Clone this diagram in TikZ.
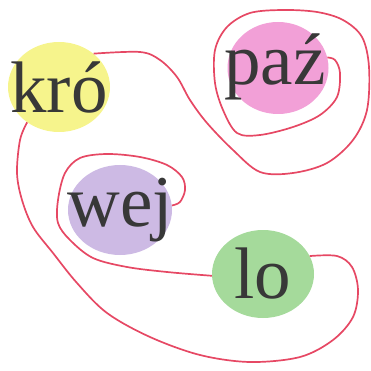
\documentclass[tikz,border=0pt]{standalone}
\usepackage{fontspec}
\setmainfont{Liberation Serif}
\usetikzlibrary{shapes.geometric}
\definecolor{syly}{RGB}{246,244,140}
\definecolor{sylp}{RGB}{242,160,215}
\definecolor{sylv}{RGB}{205,186,228}
\definecolor{sylg}{RGB}{165,218,155}
\definecolor{loop}{RGB}{230,72,100}
\newcommand{\syl}[1]{\fontsize{73}{73}\selectfont #1}

\begin{document}
\begin{tikzpicture}[x=1pt,y=-1pt,
    blob/.style={ellipse,inner sep=0pt,minimum width=102pt,minimum height=90pt},
    word/.style={label={[text={black!78},inner sep=0pt]center:\syl{#1}}},
    hand/.style={draw=loop,line width=1.7pt,smooth,tension=0.55}]
    \useasboundingbox (0,0) rectangle (371,371);
    \node[blob,fill=syly,word=kró] (kro) at (59,87) {};
    \node[blob,fill=sylp,minimum width=101pt,minimum height=92pt] (paz) at (278,68) {};
    \node[inner sep=0pt,text={black!78}] (pazw) at (275,67) {\syl{paź}};
    \node[blob,fill=sylv,minimum width=104pt,word=wej] (wej) at (120,210) {};
    \node[blob,fill=sylg,minimum height=88pt,word=lo] (lo) at (263,274) {};
    % kro -> paz (spiral)
    \draw[hand] plot coordinates {(kro.44) (140,52) (160,60) (177,77) (190,100)
      (207,123) (233,150) (260,172) (293,173) (327,163) (353,140) (367,110)
      (369,67) (362,37) (343,20) (317,12) (283,10) (250,13) (227,27) (215,50)
      (215,83) (223,110) (237,133) (260,135) (293,127) (320,115) (337,97)
      (340,73) (335,60) (paz.12)};
    % kro -> lo
    \draw[hand] plot coordinates {(kro.228) (20,140) (17,173) (22,200) (33,227)
      (53,253) (77,283) (107,313) (150,337) (200,355) (250,362) (300,357)
      (333,340) (353,317) (358,290) (352,267) (337,256) (lo.21)};
    % lo -> wej
    \draw[hand] plot coordinates {(lo.182) (167,272) (127,267) (93,258) (70,240)
      (58,223) (58,200) (65,173) (80,158) (107,154) (140,157) (167,165)
      (182,177) (185,190) (180,202) (wej.5)};
\end{tikzpicture}
\end{document}
